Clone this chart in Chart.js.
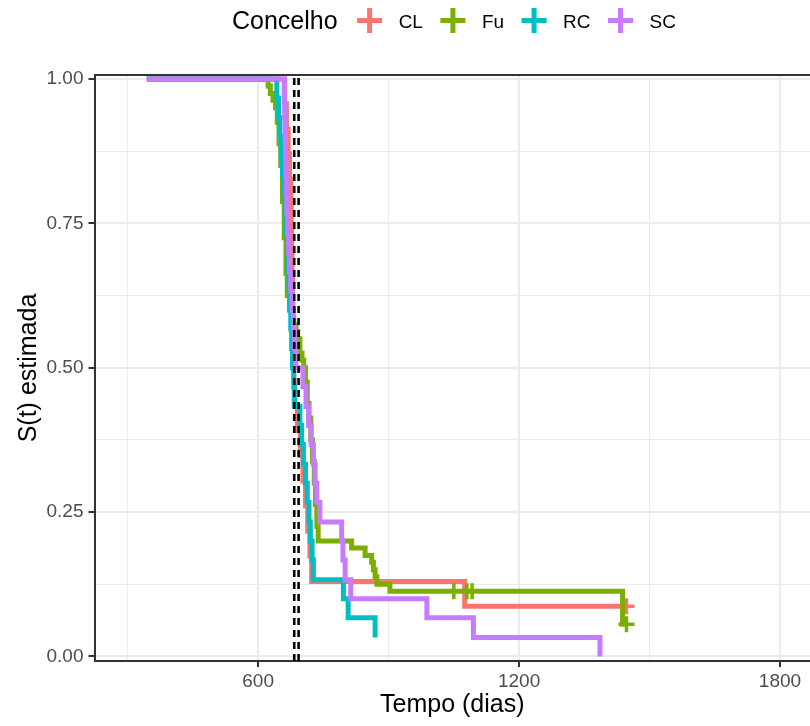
<!DOCTYPE html>
<html lang="pt">
<head>
  <meta charset="UTF-8">
  <title>S(t) estimada por concelho</title>
  <script src="https://cdn.jsdelivr.net/npm/chart.js"></script>
  <style>
    html, body { margin: 0; padding: 0; background: #fff; overflow: hidden; }
    #wrap { position: relative; width: 810px; height: 726px; }
  </style>
</head>
<body>
  <div id="wrap"><canvas id="kmChart"></canvas></div>

  <script>
    // grupos (concelhos) e cores
    const groups = ['CL', 'Fu', 'RC', 'SC'];
    const colors = ['#F8766D', '#7CAE00', '#00BFC4', '#C77CFF'];

    // curvas de Kaplan-Meier (tempo em dias, S(t))
    const clTime = [344, 661, 665, 669, 672, 675, 676, 677, 678, 679, 680, 681, 682, 683, 690, 697, 703, 709, 714, 719, 723, 1075, 1447];
    const clSurv = [1, .957, .913, .870, .826, .783, .739, .696, .652, .609, .565, .522, .478, .435, .391, .348, .304, .261, .217, .174, .130, .087, .087];

    const fuTime = [344, 623, 628, 634, 640, 644, 648, 652, 656, 660, 664, 667, 672, 677, 682, 687, 691, 696, 701, 705, 709, 713, 717, 721, 725, 729, 732, 735, 738, 815, 846, 861, 865, 869, 873, 903, 1438, 1447];
    const fuSurv = [1, .988, .975, .963, .95, .925, .888, .85, .788, .725, .663, .625, .6, .588, .575, .563, .55, .525, .513, .5, .475, .438, .413, .375, .338, .3, .263, .225, .2, .188, .175, .163, .15, .138, .125, .113, .056, .056];

    const rcTime = [344, 643, 647, 650, 653, 656, 659, 662, 665, 667, 669, 671, 673, 675, 677, 679, 682, 684, 696, 700, 704, 709, 713, 717, 720, 724, 727, 796, 807, 869];
    const rcSurv = [1, .967, .933, .9, .867, .833, .8, .767, .733, .7, .667, .633, .6, .567, .533, .5, .467, .433, .4, .367, .333, .3, .267, .233, .2, .167, .133, .1, .067, .033];

    const scTime = [344, 660, 661, 662, 663, 664, 665, 666, 668, 670, 672, 675, 678, 681, 684, 687, 703, 710, 716, 722, 727, 731, 735, 742, 792, 795, 800, 813, 988, 1095, 1386];
    const scSurv = [1, .967, .933, .9, .867, .833, .8, .767, .733, .7, .667, .633, .6, .567, .533, .5, .467, .433, .4, .367, .333, .3, .267, .233, .2, .167, .133, .1, .067, .033, 0];

    // observações censuradas (+)
    const clCensTime = [1447];
    const clCensSurv = [.087];
    const fuCensTime = [1050, 1080, 1092, 1447];
    const fuCensSurv = [.113, .113, .113, .056];

    // medianas (linhas tracejadas)
    const medianTimes = [683, 693];

    // eixos
    const xMajor = [600, 1200, 1800];
    const xMinor = [300, 900, 1500];
    const yMajor = [0, 0.25, 0.5, 0.75, 1];
    const yMinor = [0.125, 0.375, 0.625, 0.875];
    const xMin = 223.7, xMax = 1869;
    const yMin = -0.0078, yMax = 1.0069;

    const FONT = "'Liberation Sans', Arial, sans-serif";

    function pts(t, s) { return t.map((v, i) => ({ x: v, y: s[i] })); }

    const curves = [[clTime, clSurv], [fuTime, fuSurv], [rcTime, rcSurv], [scTime, scSurv]];
    const censors = [[clCensTime, clCensSurv], [fuCensTime, fuCensSurv], null, null];

    const datasets = [];
    medianTimes.forEach(m => {
      datasets.push({
        label: 'mediana',
        data: [{ x: m, y: yMin }, { x: m, y: yMax }],
        borderColor: '#000',
        borderWidth: 2.6,
        borderDash: [7, 5],
        pointRadius: 0,
        order: 0
      });
    });
    groups.forEach((g, i) => {
      datasets.push({
        label: g,
        data: pts(curves[i][0], curves[i][1]),
        borderColor: colors[i],
        borderWidth: 5,
        stepped: 'before',
        pointRadius: 0,
        fill: false,
        order: 10 - i * 2
      });
      if (censors[i]) {
        datasets.push({
          label: g + ' censura',
          data: pts(censors[i][0], censors[i][1]),
          showLine: false,
          pointStyle: 'cross',
          pointRadius: 8,
          pointBorderWidth: 3.5,
          pointBorderColor: colors[i],
          borderColor: colors[i],
          order: 9 - i * 2
        });
      }
    });

    const isIn = (arr, v) => arr.some(a => Math.abs(a - v) < 1e-9);

    // borda superior do painel + legenda no topo
    const panelAndLegend = {
      id: 'panelAndLegend',
      afterDraw(chart) {
        const c = chart.ctx, a = chart.chartArea;
        c.save();
        c.strokeStyle = '#333333';
        c.lineWidth = 2;
        c.beginPath();
        c.moveTo(a.left, a.top);
        c.lineTo(chart.width, a.top);
        c.stroke();

        c.fillStyle = '#000';
        c.textBaseline = 'alphabetic';
        c.font = '25px ' + FONT;
        let x = 232;
        c.fillText('Concelho', x, 29);
        x += c.measureText('Concelho').width + 32;
        c.font = '19px ' + FONT;
        groups.forEach((g, i) => {
          c.strokeStyle = colors[i];
          c.lineWidth = 5;
          c.beginPath();
          c.moveTo(x - 12.5, 20.5); c.lineTo(x + 12.5, 20.5);
          c.moveTo(x, 8); c.lineTo(x, 33);
          c.stroke();
          c.fillStyle = '#000';
          c.fillText(g, x + 29, 28);
          x += 29 + c.measureText(g).width + 30;
        });
        c.restore();
      }
    };

    new Chart(document.getElementById('kmChart'), {
      type: 'line',
      data: { datasets },
      options: {
        responsive: true,
        maintainAspectRatio: false,
        animation: false,
        layout: { autoPadding: false, padding: { top: 75, left: 0, right: 0, bottom: 0 } },
        plugins: { legend: { display: false }, tooltip: { enabled: false } },
        scales: {
          x: {
            type: 'linear',
            min: xMin,
            max: xMax,
            afterBuildTicks: s => { s.ticks = xMinor.concat(xMajor).sort((a, b) => a - b).map(v => ({ value: v })); },
            afterFit: s => { s.height = 65; s.paddingLeft = 0; s.paddingRight = 0; },
            ticks: {
              autoSkip: false,
              maxRotation: 0,
              padding: 3,
              color: '#4D4D4D',
              font: { family: FONT, size: 19 },
              callback: v => isIn(xMajor, v) ? String(v) : ''
            },
            grid: {
              color: '#EBEBEB',
              lineWidth: ctx => (ctx.tick && isIn(xMajor, ctx.tick.value)) ? 2 : 1,
              tickColor: ctx => (ctx.tick && isIn(xMajor, ctx.tick.value)) ? '#333333' : 'rgba(0,0,0,0)',
              tickLength: 6,
              tickWidth: 2
            },
            border: { display: true, color: '#333333', width: 2 },
            title: {
              display: true,
              text: 'Tempo (dias)',
              color: '#000',
              font: { family: FONT, size: 25 },
              padding: { top: 0, bottom: 6 }
            }
          },
          y: {
            type: 'linear',
            min: yMin,
            max: yMax,
            afterBuildTicks: s => { s.ticks = yMinor.concat(yMajor).sort((a, b) => a - b).map(v => ({ value: v })); },
            afterFit: s => { s.width = 94.5; s.paddingTop = 0; s.paddingBottom = 0; },
            ticks: {
              autoSkip: false,
              padding: 5,
              color: '#4D4D4D',
              font: { family: FONT, size: 19 },
              callback: v => isIn(yMajor, v) ? v.toFixed(2) : ''
            },
            grid: {
              color: '#EBEBEB',
              lineWidth: ctx => (ctx.tick && isIn(yMajor, ctx.tick.value)) ? 2 : 1,
              tickColor: ctx => (ctx.tick && isIn(yMajor, ctx.tick.value)) ? '#333333' : 'rgba(0,0,0,0)',
              tickLength: 6,
              tickWidth: 2
            },
            border: { display: true, color: '#333333', width: 2 },
            title: {
              display: true,
              text: 'S(t) estimada',
              color: '#000',
              font: { family: FONT, size: 25 },
              padding: { top: 14, bottom: 0 }
            }
          }
        }
      },
      plugins: [panelAndLegend]
    });
  </script>
</body>
</html>
